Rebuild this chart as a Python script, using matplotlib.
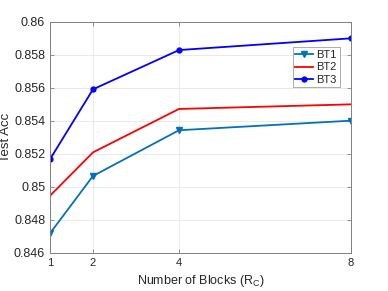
import numpy as np
import matplotlib
matplotlib.use("Agg")
import matplotlib.pyplot as plt

# datos ----------------------------------------------------------------

blocks = [1, 2, 4, 8]
bt1 = [0.84719, 0.85067, 0.85344, 0.85402]
bt2 = [0.84947, 0.85210, 0.85473, 0.85501]
bt3 = [0.85168, 0.85592, 0.85830, 0.85901]
yticks = [0.846, 0.848, 0.85, 0.852, 0.854, 0.856, 0.858, 0.86]
ytick_labels = ["0.846", "0.848", "0.85", "0.852", "0.854", "0.856", "0.858", "0.86"]

# figura ---------------------------------------------------------------

plt.rcParams["font.family"] = ["Liberation Sans", "DejaVu Sans"]
plt.rcParams["mathtext.fontset"] = "custom"
plt.rcParams["mathtext.rm"] = "Liberation Sans"

txt = "#262626"
fig = plt.figure(figsize=(3.88, 2.91), dpi=100)
ax = fig.add_axes([50 / 388, 1 - 253 / 291, 301 / 388, 231 / 291])

ax.plot(blocks, bt1, color="#0072BD", lw=1.3, marker="v", ms=4.5, label="BT1")
ax.plot(blocks, bt2, color="#FF0000", lw=1.3, label="BT2")
ax.plot(blocks, bt3, color="#0000FF", lw=1.3, marker="o", ms=3.5, label="BT3")

ax.set_xlim(1, 8)
ax.set_ylim(0.846, 0.86)
ax.set_xticks(blocks)
ax.set_yticks(yticks)
ax.set_yticklabels(ytick_labels)
ax.grid(True, color="#e6e6e6", lw=0.6)
ax.set_axisbelow(True)
ax.tick_params(direction="in", length=3, width=0.6, colors="#808080",
               labelcolor=txt, labelsize=9, top=True, right=True)
ax.tick_params(axis="x", labelsize=8)
for s in ax.spines.values():
    s.set_color("#808080")
    s.set_linewidth(0.7)

ax.set_xlabel(r"Number of Blocks (R$_\mathregular{C}$)", fontsize=9, color=txt, labelpad=4)
ax.set_ylabel("Test Acc", fontsize=9.5, color=txt)
ax.yaxis.set_label_coords(-0.125, 0.5)

leg = ax.legend(loc="upper right", bbox_to_anchor=(0.962, 0.89), fontsize=8,
                handlelength=1.6, handletextpad=0.3, borderpad=0.25,
                labelspacing=0.2, borderaxespad=0, fancybox=False, framealpha=1)
leg.get_frame().set_edgecolor("#a0a0a0")
leg.get_frame().set_linewidth(0.6)
for t in leg.get_texts():
    t.set_color(txt)

fig.savefig("out.png", dpi=100)
